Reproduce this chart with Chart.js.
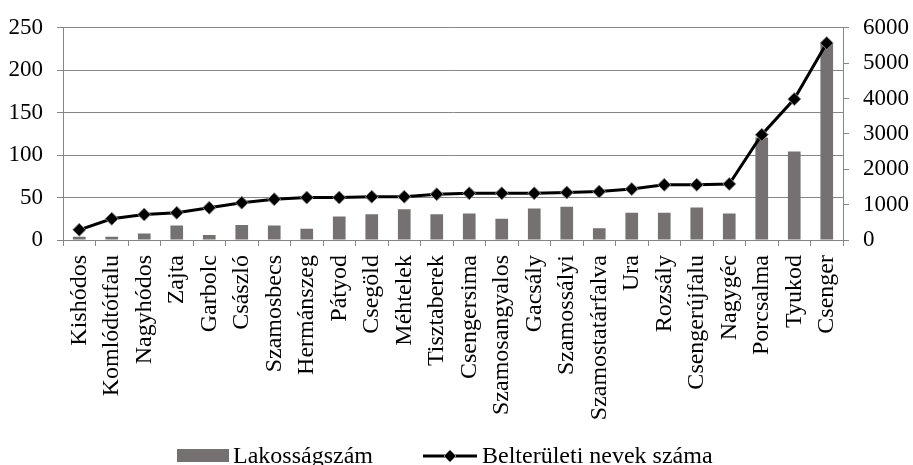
<!DOCTYPE html>
<html>
<head>
<meta charset="utf-8">
<script src="https://cdn.jsdelivr.net/npm/chart.js@4"></script>
<style>
  html, body { margin: 0; padding: 0; background: #fff; }
  canvas { display: block; }
</style>
</head>
<body>
<canvas id="chart" width="913" height="465"></canvas>
<script>
// Adatok
const telepulesek = ["Kishódos", "Komlódtótfalu", "Nagyhódos", "Zajta", "Garbolc", "Császló",
  "Szamosbecs", "Hermánszeg", "Pátyod", "Csegöld", "Méhtelek", "Tisztaberek", "Csengersima",
  "Szamosangyalos", "Gacsály", "Szamossályi", "Szamostatárfalva", "Ura", "Rozsály",
  "Csengerújfalu", "Nagygéc", "Porcsalma", "Tyukod", "Csenger"];
const lakossag = [90, 90, 185, 410, 140, 425, 410, 320, 665, 730, 870, 730, 750,
  600, 890, 940, 330, 770, 770, 920, 750, 2900, 2500, 5540];
const nevekSzama = [12, 25, 30, 32, 38, 44, 48, 50, 50, 51, 51, 54, 55,
  55, 55, 56, 57, 60, 65, 65, 66, 124, 166, 232];
const balTicks = [0, 50, 100, 150, 200, 250];
const jobbTicks = [0, 1000, 2000, 3000, 4000, 5000, 6000];

const FONT = "'Liberation Serif', 'Times New Roman', serif";
const GRAY = "#868686";
const BAR = "#767171";

// Jelmagyarázat kézzel rajzolva (alul)
const legendPlugin = {
  id: "sajatLegend",
  afterDraw(chart){
    const ctx = chart.ctx;
    ctx.save();
    ctx.font = "24px " + FONT;
    ctx.textBaseline = "alphabetic";
    ctx.textAlign = "left";
    // oszlop
    ctx.fillStyle = BAR;
    ctx.fillRect(177, 449, 52, 13);
    ctx.fillStyle = "#000";
    ctx.fillText("Lakosságszám", 233, 463);
    // vonal
    ctx.strokeStyle = "#000";
    ctx.lineWidth = 3;
    ctx.beginPath(); ctx.moveTo(423, 456); ctx.lineTo(477, 456); ctx.stroke();
    ctx.beginPath();
    ctx.moveTo(450, 450); ctx.lineTo(456, 456); ctx.lineTo(450, 462); ctx.lineTo(444, 456); ctx.closePath();
    ctx.fillStyle = "#000"; ctx.fill();
    ctx.lineWidth = 1; ctx.strokeStyle = GRAY; ctx.stroke();
    ctx.fillStyle = "#000";
    ctx.fillText("Belterületi nevek száma", 482, 463);
    ctx.restore();
  }
};

new Chart(document.getElementById("chart"), {
  type: "bar",
  data: {
    labels: telepulesek,
    datasets: [
      {
        type: "bar",
        label: "Lakosságszám",
        data: lakossag,
        yAxisID: "y1",
        backgroundColor: BAR,
        barPercentage: 0.39,
        categoryPercentage: 1,
        order: 2
      },
      {
        type: "line",
        label: "Belterületi nevek száma",
        data: nevekSzama,
        yAxisID: "y",
        borderColor: "#000",
        borderWidth: 3,
        pointStyle: "rectRot",
        pointRadius: 6.5,
        pointBackgroundColor: "#000",
        pointBorderColor: GRAY,
        pointBorderWidth: 1,
        tension: 0,
        order: 1
      }
    ]
  },
  options: {
    responsive: false,
    animation: false,
    layout: { padding: { top: 23, left: 0, right: 0, bottom: 0 } },
    plugins: { legend: { display: false }, tooltip: { enabled: false } },
    scales: {
      x: {
        offset: true,
        afterFit(s){ s.height = 225; },
        grid: { drawOnChartArea: false, drawTicks: true, tickLength: 6, color: GRAY, offset: true },
        border: { color: GRAY, width: 1 },
        ticks: {
          autoSkip: false, minRotation: 90, maxRotation: 90, padding: 9,
          color: "#000", font: { family: FONT, size: 24 }
        }
      },
      y: {
        position: "left",
        min: 0, max: 250,
        afterFit(s){ s.width = 63; },
        afterBuildTicks(s){ s.ticks = balTicks.map(v => ({ value: v })); },
        grid: { color: GRAY, lineWidth: 1, tickLength: 6 },
        border: { color: GRAY, width: 1 },
        ticks: { padding: 14, color: "#000", font: { family: FONT, size: 23 }, callback: v => String(v) }
      },
      y1: {
        position: "right",
        min: 0, max: 6000,
        afterFit(s){ s.width = 70; },
        afterBuildTicks(s){ s.ticks = jobbTicks.map(v => ({ value: v })); },
        grid: { drawOnChartArea: false, color: GRAY, tickLength: 6 },
        border: { color: GRAY, width: 1 },
        ticks: { padding: 14, color: "#000", font: { family: FONT, size: 23 }, callback: v => String(v) }
      }
    }
  },
  plugins: [legendPlugin]
});
</script>
</body>
</html>
